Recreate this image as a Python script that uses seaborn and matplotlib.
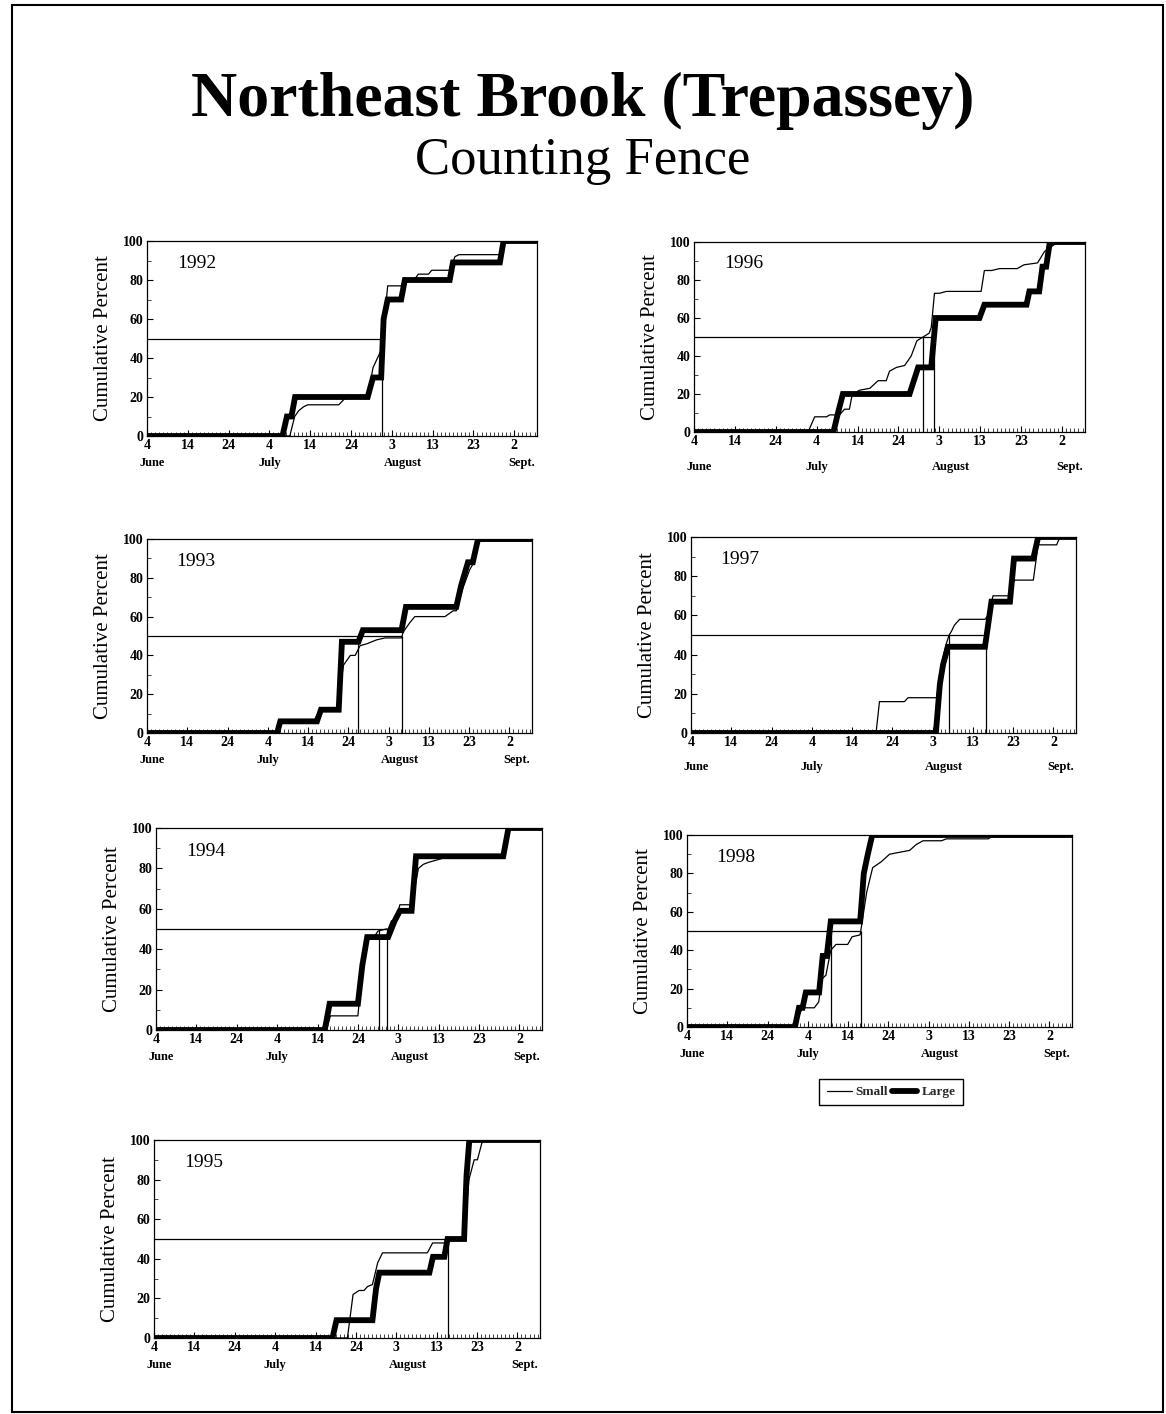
import matplotlib
matplotlib.use("Agg")
import matplotlib.pyplot as plt
import seaborn as sns
import pandas as pd
from matplotlib.lines import Line2D
from matplotlib.patches import Rectangle
from matplotlib.ticker import MultipleLocator

# ---------------- data (x = days after 4 June) ----------------
TICK_DAYS = [0, 10, 20, 30, 40, 50, 60, 70, 80, 90]
TICK_LABELS = ["4", "14", "24", "4", "14", "24", "3", "13", "23", "2"]
MONTH_NAMES = ["June", "July", "August", "Sept."]
MONTH_POS = [1.2, 30.0, 62.8, 91.9]
X_END = 95.6

L92_x = [0, 33.2, 34.3, 35.4, 36.3, 54.1, 55.4, 57.4, 58.0, 59.0, 62.3, 63.2, 74.2, 75.0, 86.5, 87.4, 95.6]
L92_y = [0, 0, 10, 10, 20, 20, 30, 30, 60, 70, 70, 80, 80, 89, 89, 100, 100]
S92_x = [0, 35.0, 36.2, 37.2, 38.4, 39.4, 47.0, 48.4, 49.2, 54.1, 55.4, 56.5, 57.4, 58.0, 59.0, 62.3, 63.2,
         65.5, 66.5, 69.0, 69.8, 74.2, 75.5, 76.5, 86.5, 87.4, 95.6]
S92_y = [0, 0, 10, 13, 15, 16, 16, 19, 20, 20, 35, 40, 44, 55, 77, 77, 80, 80, 83, 83, 85, 85, 92, 93, 93, 100, 100]
MED92 = [57.7]

L96_x = [0, 34.1, 35.2, 36.4, 52.7, 54.8, 58.0, 59.1, 69.8, 71.0, 81.3, 82.0, 84.4, 85.2, 86.1, 87.0, 95.6]
L96_y = [0, 0, 10, 20, 20, 34, 34, 60, 60, 67, 67, 74, 74, 87, 87, 100, 100]
S96_x = [0, 27.9, 29.5, 32.4, 33.2, 35.6, 36.8, 38.0, 38.7, 40.5, 43.0, 45.0, 47.0, 47.8, 49.5, 51.5, 53.1,
         54.5, 56.0, 57.5, 58.0, 58.8, 60.0, 61.7, 70.2, 71.0, 72.8, 74.7, 79.0, 80.7, 84.0, 85.7, 87.0, 89.0, 95.6]
S96_y = [0, 0, 8, 8, 9, 9, 12, 12, 20, 22, 23, 27, 27, 32, 34, 35, 40, 48, 50, 52, 55, 73, 73, 74, 74, 85, 85,
         86, 86, 88, 89, 95, 97, 100, 100]
MED96 = [56.0, 58.7]

L93_x = [0, 32.3, 33.1, 42.2, 43.2, 47.6, 48.4, 52.5, 53.6, 63.2, 64.3, 76.8, 78.0, 79.7, 80.9, 82.2, 95.6]
L93_y = [0, 0, 6, 6, 12, 12, 47, 47, 53, 53, 65, 65, 76, 88, 88, 100, 100]
S93_x = [0, 32.3, 33.1, 41.4, 42.4, 43.2, 47.2, 48.8, 50.5, 51.7, 52.9, 54.6, 57.0, 59.1, 63.2, 63.6, 65.3,
         66.5, 74.0, 76.0, 76.8, 78.5, 80.1, 80.9, 82.2, 95.6]
S93_y = [0, 0, 6, 6, 10, 12, 12, 35, 40, 40, 45, 46, 48, 49, 49, 52, 57, 60, 60, 63, 63, 75, 84, 87, 99, 99]
MED93 = [52.5, 63.2]

L97_x = [0, 60.8, 61.8, 62.6, 63.8, 73.0, 74.6, 79.2, 80.2, 85.0, 86.2, 95.6]
L97_y = [0, 0, 25, 35, 44, 44, 67, 67, 89, 89, 100, 100]
S97_x = [0, 28.6, 29.0, 46.0, 46.8, 53.0, 53.9, 61.0, 62.2, 63.3, 64.1, 64.7, 65.4, 66.7, 73.0, 73.8, 75.0,
         79.2, 80.0, 80.5, 85.0, 86.2, 90.8, 91.6, 95.6]
S97_y = [0, 0, 1, 1, 16, 16, 18, 18, 35, 45, 50, 52, 55, 58, 58, 60, 70, 70, 77, 78, 78, 96, 96, 100, 100]
MED97 = [64.1, 73.2]

L94_x = [0, 41.8, 43.0, 50.0, 51.1, 52.3, 57.5, 58.3, 59.1, 60.4, 63.3, 64.4, 86.0, 87.3, 95.6]
L94_y = [0, 0, 13, 13, 32, 46, 46, 50, 54, 59, 59, 86, 86, 100, 100]
S94_x = [0, 42.2, 43.2, 50.0, 51.1, 52.3, 54.0, 55.0, 57.0, 57.5, 58.3, 59.5, 60.4, 63.3, 65.0, 66.2, 67.5,
         71.0, 72.0, 86.0, 87.3, 95.6]
S94_y = [0, 0, 7, 7, 30, 46, 46, 49, 50, 50, 54, 55, 62, 62, 80, 82, 83, 85, 86, 86, 100, 100]
MED94 = [55.2, 57.2]

L98_x = [0, 26.8, 27.8, 28.7, 29.5, 32.8, 33.7, 34.7, 35.7, 43.0, 43.9, 44.9, 46.0, 95.6]
L98_y = [0, 0, 10, 10, 18, 18, 37, 37, 55, 55, 80, 90, 100, 100]
S98_x = [0, 26.8, 27.8, 28.7, 31.6, 32.7, 33.5, 34.5, 35.7, 37.0, 39.9, 41.0, 43.0, 44.6, 46.1, 48.2, 50.3,
         52.8, 55.3, 56.9, 58.6, 63.2, 64.4, 74.8, 75.6, 93.5, 95.6]
S98_y = [0, 0, 6, 10, 10, 13, 25, 27, 40, 43, 43, 47, 48, 70, 83, 86, 90, 91, 92, 95, 97, 97, 98, 98, 99, 99, 100]
MED98 = [35.7, 43.2]

L95_x = [0, 44.2, 45.2, 54.1, 55.0, 55.8, 68.2, 69.1, 71.9, 72.7, 76.8, 77.4, 78.1, 95.6]
L95_y = [0, 0, 9, 9, 25, 33, 33, 41, 41, 50, 50, 82, 100, 100]
S95_x = [0, 47.9, 49.3, 50.8, 52.0, 52.9, 54.1, 55.4, 56.6, 67.7, 69.0, 71.9, 72.3, 76.8, 78.0, 79.3, 80.1,
         81.4, 95.6]
S95_y = [0, 0, 22, 24, 24, 26, 27, 38, 43, 43, 48, 48, 50, 50, 80, 90, 90, 100, 100]
MED95 = [72.9]

YEARS = ["1992", "1996", "1993", "1997", "1994", "1998", "1995"]
SERIES = {
    "1992": (S92_x, S92_y, L92_x, L92_y, MED92),
    "1996": (S96_x, S96_y, L96_x, L96_y, MED96),
    "1993": (S93_x, S93_y, L93_x, L93_y, MED93),
    "1997": (S97_x, S97_y, L97_x, L97_y, MED97),
    "1994": (S94_x, S94_y, L94_x, L94_y, MED94),
    "1998": (S98_x, S98_y, L98_x, L98_y, MED98),
    "1995": (S95_x, S95_y, L95_x, L95_y, MED95),
}

# ---------------- layout (pixel boxes: left, right, top, bottom) ----------------
W, H = 1166, 1414
BOXES = {
    "1992": (147, 537, 241, 436),
    "1996": (694, 1085, 242, 432),
    "1993": (147, 532, 539, 733),
    "1997": (691, 1076, 537, 733),
    "1994": (156, 542, 828, 1030),
    "1998": (687, 1072, 835, 1027),
    "1995": (154, 540, 1140, 1338),
}
MONTH_OFFSET = {"1992": -15, "1996": -21, "1993": -15, "1997": -20, "1994": -15, "1998": -15, "1995": -15}

sns.set_theme(style="ticks")
plt.rcParams["font.family"] = ["Liberation Serif", "DejaVu Serif"]

fig = plt.figure(figsize=(W / 100, H / 100), dpi=100)
fig.patch.set_facecolor("white")

fig.text(0.5, 1 - 101 / H, "Northeast Brook (Trepassey)", ha="center", va="center",
         fontsize=46, fontweight="bold", color="black")
fig.text(0.5, 1 - 161 / H, "Counting Fence", ha="center", va="center",
         fontsize=38, color="black")

for yr in YEARS:
    l, r, t, b = BOXES[yr]
    ax = fig.add_axes([l / W, 1 - b / H, (r - l) / W, (b - t) / H])
    sx, sy, lx, ly, med = SERIES[yr]
    df_s = pd.DataFrame({"day": sx, "pct": sy})
    df_l = pd.DataFrame({"day": lx, "pct": ly})
    # median reference lines
    ax.hlines(50, 0, max(med), color="black", lw=0.9, zorder=1)
    ax.vlines(med, 0, 50, color="black", lw=0.9, zorder=1)
    sns.lineplot(data=df_s, x="day", y="pct", ax=ax, color="black", lw=0.9,
                 sort=False, estimator=None, zorder=3)
    sns.lineplot(data=df_l, x="day", y="pct", ax=ax, color="black", lw=4.2,
                 sort=False, estimator=None, zorder=2, solid_joinstyle="miter")
    ax.set_xlim(0, X_END)
    ax.set_ylim(0, 100)
    ax.set_xticks(TICK_DAYS)
    ax.set_xticklabels(TICK_LABELS)
    ax.xaxis.set_minor_locator(MultipleLocator(1))
    ax.yaxis.set_major_locator(MultipleLocator(20))
    ax.yaxis.set_minor_locator(MultipleLocator(10))
    ax.tick_params(axis="both", which="major", direction="in", length=4, width=0.8,
                   labelsize=10, pad=2.5, colors="black")
    ax.tick_params(axis="both", which="minor", direction="in", length=3, width=0.6)
    for lab in ax.get_xticklabels() + ax.get_yticklabels():
        lab.set_fontweight("bold")
    for sp in ax.spines.values():
        sp.set_visible(True)
        sp.set_color("black")
        sp.set_linewidth(0.9)
    ax.set_xlabel("")
    ax.set_ylabel("Cumulative Percent", fontsize=15, labelpad=7, color="black")
    ax.text(0.077, 0.885, yr, transform=ax.transAxes, fontsize=14, va="center", ha="left",
            color="black")
    for mp, mn in zip(MONTH_POS, MONTH_NAMES):
        ax.annotate(mn, xy=(mp, 0), xycoords=ax.get_xaxis_transform(),
                    xytext=(0, MONTH_OFFSET[yr]), textcoords="offset points",
                    ha="center", va="top", fontsize=9, fontweight="bold", color="black")
    ax.set_facecolor("white")

# legend under 1998 panel
handles = [Line2D([0], [0], color="black", lw=0.9), Line2D([0], [0], color="black", lw=4.2)]
fig.legend(handles, ["Small", "Large"], loc="center", ncol=2,
           bbox_to_anchor=(891 / W, 1 - 1092 / H), frameon=True, fancybox=False,
           edgecolor="black", framealpha=1, handlelength=1.9,
           handletextpad=0.3, columnspacing=0.3, borderpad=0.55,
           prop={"weight": "bold", "size": 9.5})

# outer border
fig.patches.append(Rectangle((12 / W, 2 / H), (1163 - 12) / W, (1409 - 2) / H,
                             transform=fig.transFigure, fill=False, edgecolor="black", lw=1.5))

fig.savefig("out.png", dpi=100, facecolor="white")
